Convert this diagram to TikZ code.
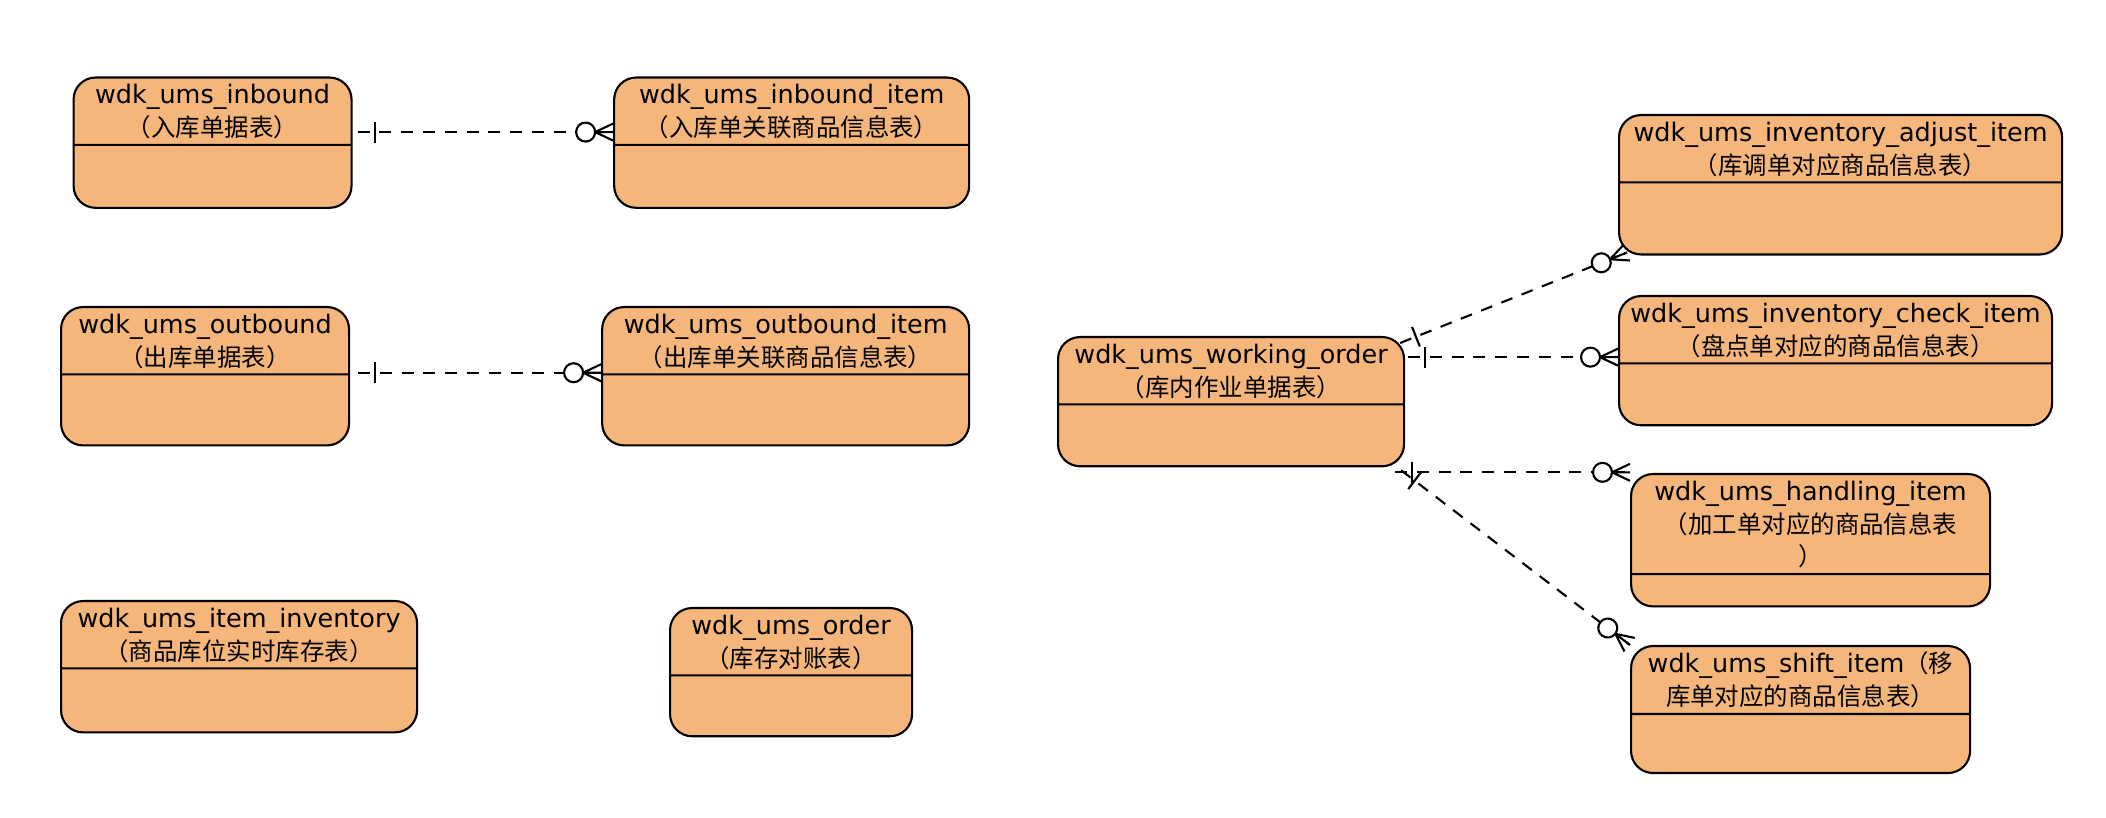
\documentclass[tikz,border=0pt]{standalone}
\usepackage{fontspec}
\setmainfont{DejaVu Sans}
\newfontfamily\cjk{Noto Sans CJK SC}[Scale=0.96]
\usetikzlibrary{positioning}
\usetikzlibrary{calc}
\usetikzlibrary{arrows.meta}
\usetikzlibrary{decorations.markings}
\usetikzlibrary{shapes.multipart}
\definecolor{tabfill}{RGB}{244,182,122}
\newcommand{\tabfont}{\fontsize{7.25}{9.3}\selectfont}

\begin{document}
\begin{tikzpicture}[
    entity/.style={rectangle split, rectangle split parts=2, draw, line width=0.6pt, rounded corners=0.22cm, fill=tabfill, align=center, inner xsep=0pt, inner ysep=1.4pt, font=\tabfont, execute at begin node={\rule{0pt}{5.8pt}}, anchor=north west},
    rel/.style={line width=0.6pt, dash pattern=on 3.4pt off 2.8pt, postaction={decorate, decoration={markings,
        mark=at position 0.17cm with {\draw[solid] (0,-0.105) -- (0,0.105);},
        mark=at position 1 with {\draw[solid] (-0.18,0) -- (0,0.085) (-0.18,0) -- (0,0) (-0.18,0) -- (0,-0.085);
                                 \draw[solid, fill=white] (-0.275,0) circle (0.095);}}}}
]
    \useasboundingbox (0,0) rectangle (21.06,-8.18);

    % left column
    \node[entity, text width=2.78cm] (inbound) at (0.725,-0.765) {wdk\_ums\_inbound\\{\cjk （入库单据表）}\nodepart{two}\rule{0pt}{14.5pt}};
    \node[entity, text width=3.55cm, anchor=west, right=2.605cm of inbound] (inboundItem) {wdk\_ums\_inbound\_item\\{\cjk （入库单关联商品信息表）}\nodepart{two}\rule{0pt}{14.5pt}};
    \node[entity, text width=2.88cm] (outbound) at (0.60,-3.06) {wdk\_ums\_outbound\\{\cjk （出库单据表）}\nodepart{two}\rule{0pt}{16.8pt}};
    \node[entity, text width=3.67cm, anchor=west, right=2.51cm of outbound] (outboundItem) {wdk\_ums\_outbound\_item\\{\cjk （出库单关联商品信息表）}\nodepart{two}\rule{0pt}{16.8pt}};
    \node[entity, text width=3.56cm] (itemInv) at (0.60,-6.00) {wdk\_ums\_item\_inventory\\{\cjk （商品库位实时库存表）}\nodepart{two}\rule{0pt}{14.8pt}};
    \node[entity, text width=2.42cm] (order) at (6.69,-6.07) {wdk\_ums\_order\\{\cjk （库存对账表）}\nodepart{two}\rule{0pt}{13.9pt}};

    % working order and its items
    \node[entity, text width=3.46cm] (workOrder) at (10.57,-3.36) {wdk\_ums\_working\_order\\{\cjk （库内作业单据表）}\nodepart{two}\rule{0pt}{14.2pt}};
    \node[entity, text width=4.43cm] (adjustItem) at (16.18,-1.14) {wdk\_ums\_inventory\_adjust\_item\\{\cjk （库调单对应商品信息表）}\nodepart{two}\rule{0pt}{17.1pt}};
    \node[entity, text width=4.33cm] (checkItem) at (16.18,-2.95) {wdk\_ums\_inventory\_check\_item\\{\cjk （盘点单对应的商品信息表）}\nodepart{two}\rule{0pt}{14.2pt}};
    \node[entity, text width=3.59cm] (handlingItem) at (16.30,-4.73) {wdk\_ums\_handling\_item\\{\cjk （加工单对应的商品信息表}\\{\cjk ）}\nodepart{two}\rule{0pt}{4pt}};
    \node[entity, text width=3.39cm] (shiftItem) at (16.30,-6.45) {wdk\_ums\_shift\_item{\cjk （移}\\{\cjk 库单对应的商品信息表）}\nodepart{two}\rule{0pt}{13.4pt}};

    % relations
    \draw[rel] ([xshift=0.05cm, yshift=0.106cm]inbound.east) -- ([yshift=0.106cm]inboundItem.west);
    \draw[rel] ([xshift=0.08cm, yshift=0.035cm]outbound.east) -- ([yshift=0.035cm]outboundItem.west);

    \coordinate (woCheck) at ([xshift=0.03cm, yshift=0.445cm]workOrder.east);
    \coordinate (woHandling) at ([shift={(-0.10,-0.05)}]workOrder.south east);
    \draw[rel] ([shift={(-0.05,-0.07)}]workOrder.north east) -- ([shift={(0.09,0.03)}]adjustItem.south west);
    \draw[rel] (woCheck) -- (woCheck -| checkItem.west);
    \draw[rel] (woHandling) -- (woHandling -| handlingItem.west);
    \draw[rel] ([shift={(-0.04,-0.03)}]workOrder.south east) -- (shiftItem.north west);
\end{tikzpicture}
\end{document}
